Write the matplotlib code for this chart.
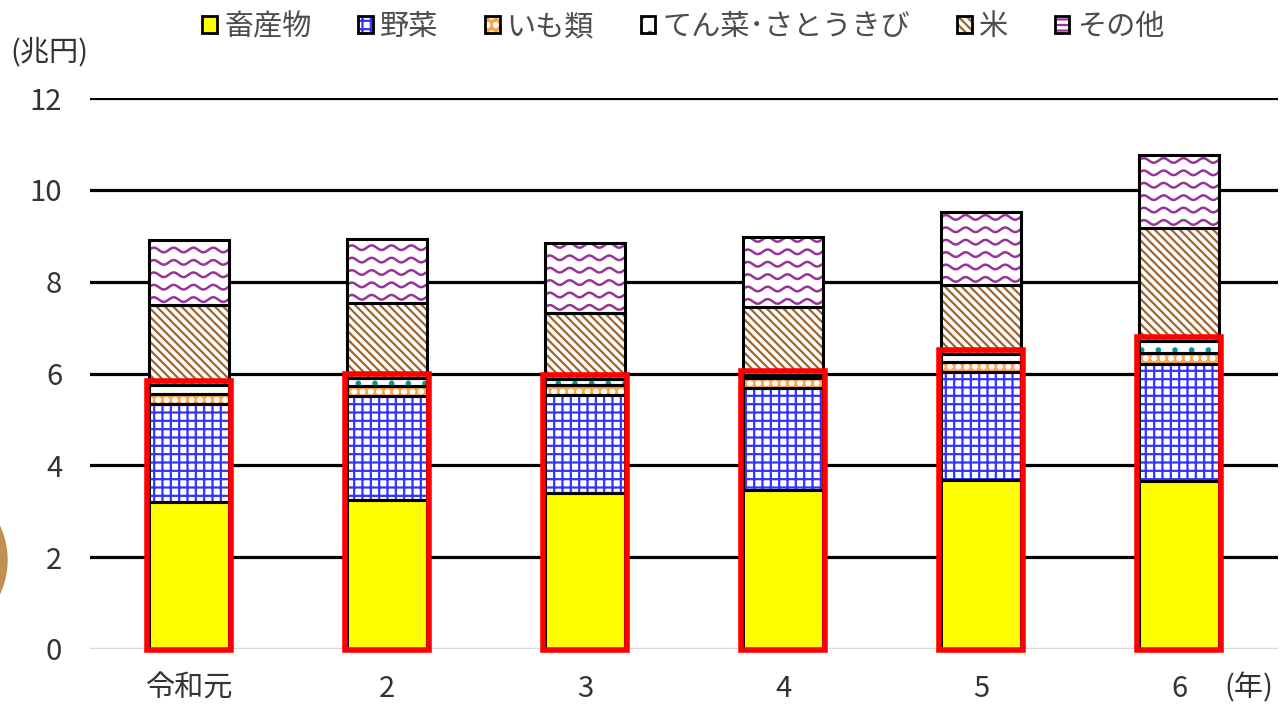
import numpy as np
import matplotlib
matplotlib.use('Agg')
import matplotlib.pyplot as plt
from matplotlib.patches import Patch, Rectangle, Ellipse
from matplotlib.legend_handler import HandlerTuple

plt.rcParams['font.family'] = ['Noto Sans CJK JP', 'DejaVu Sans']
plt.rcParams['hatch.linewidth'] = 1.6

# data (兆円)
years = ['令和元', '2', '3', '4', '5', '6']
livestock = [3.20, 3.25, 3.40, 3.47, 3.69, 3.65]
vegetables = [2.14, 2.26, 2.13, 2.22, 2.34, 2.56]
potatoes = [0.22, 0.22, 0.22, 0.21, 0.22, 0.24]
sugar_crops = [0.19, 0.17, 0.13, 0.07, 0.18, 0.26]
rice = [1.74, 1.64, 1.44, 1.48, 1.50, 2.46]
others = [1.42, 1.39, 1.53, 1.53, 1.59, 1.59]

names = ['畜産物', '野菜', 'いも類', 'てん菜･さとうきび', '米', 'その他']
series = [livestock, vegetables, potatoes, sugar_crops, rice, others]
faces = ['#FFFF00', 'white', '#FFA54A', 'white', 'white', 'white']
hatch_cols = ['#FFFF00', '#3333FF', 'white', '#009999', '#A0642D', '#993399']
hatches = [None, '++', 'oo', '.', r'\\\\', None]

W, H = 1284, 710
fig = plt.figure(figsize=(W / 100, H / 100), dpi=100)
ax = fig.add_axes([90 / W, 1 - 649 / H, 1188 / W, 551 / H])

x = np.arange(len(years))
bw = 0.405
bottom = np.zeros(len(years))
handles = []
other_bars = None
for vals, name, fc, hc, ht in zip(series, names, faces, hatch_cols, hatches):
    vals = np.array(vals)
    bars = ax.bar(x, vals, bw, bottom=bottom, color=fc, edgecolor=hc,
                  hatch=ht, linewidth=0, zorder=3)
    ax.bar(x, vals, bw, bottom=bottom, fill=False, edgecolor='black',
           linewidth=2.2, zorder=4)
    if name == 'その他':
        other_bars = bars
    leg_hatch = ht if ht else ('---' if name == 'その他' else None)
    p1 = Patch(facecolor=fc, edgecolor=hc, hatch=leg_hatch, linewidth=0)
    p2 = Patch(fill=False, edgecolor='black', linewidth=2)
    handles.append((p1, p2))
    bottom = bottom + vals

# wavy pattern for その他
for b in other_bars:
    x0, y0 = b.get_x(), b.get_y()
    bw_, bh = b.get_width(), b.get_height()
    xs = np.linspace(x0, x0 + bw_, 200)
    for yy in np.arange(y0 + 0.12, y0 + bh + 0.1, 0.27):
        ln, = ax.plot(xs, yy + 0.05 * np.sin((xs - x0) / 0.1 * 2 * np.pi),
                      color='#993399', lw=1.8, zorder=3.5)
        ln.set_clip_path(b)

# red frames round the lower four items
cum4 = np.array(livestock) + np.array(vegetables) + np.array(potatoes) + np.array(sugar_crops)
for xi, top in zip(x, cum4):
    ax.add_patch(Rectangle((xi - bw / 2 - 0.012, -0.03), bw + 0.024, top + 0.11,
                           fill=False, edgecolor='#FF0000', linewidth=4, zorder=5,
                           clip_on=False))

ax.set_xlim(-0.5, 5.5)
ax.set_ylim(0, 12)
ax.set_yticks(np.arange(0, 13, 2))
ax.set_xticks(x)
ax.set_xticklabels(years)
ax.yaxis.grid(True, color='black', linewidth=2.3, zorder=0)
ax.set_axisbelow(True)
for s in ax.spines.values():
    s.set_visible(False)
ax.axhline(0, color='#D9D9D9', linewidth=2.5, zorder=1)
ax.tick_params(length=0, labelsize=21, colors='#333333')
ax.tick_params(axis='y', pad=20)
ax.tick_params(axis='x', pad=18)
ax.get_ygridlines()[0].set_visible(False)

fig.text(10 / W, 1 - 52 / H, '(兆円)', fontsize=21, color='#333333', va='center')
fig.text(1224 / W, 1 - 688 / H, '(年)', fontsize=21, color='#333333', va='center')

fig.legend(handles, names, handler_map={tuple: HandlerTuple(ndivide=1, pad=0)},
           loc='upper center', bbox_to_anchor=(0.532, 1.02), ncol=6, frameon=False,
           fontsize=21, handlelength=0.5, handleheight=0.5, handletextpad=0.25,
           columnspacing=1.6, labelcolor='#4D4D4D')

fig.add_artist(Ellipse((-74 / W, 1 - 560 / H), 162 / W, 162 / H,
                       color='#C09050', transform=fig.transFigure))

fig.savefig('out.png', dpi=100)
